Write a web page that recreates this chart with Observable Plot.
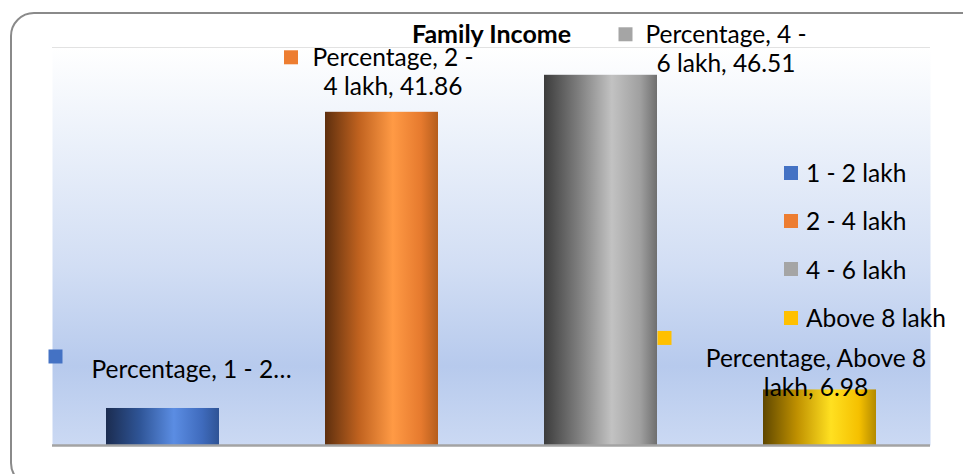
<!DOCTYPE html>
<html><head><meta charset="utf-8">
<script src="https://cdn.jsdelivr.net/npm/d3@7"></script>
<script src="https://cdn.jsdelivr.net/npm/@observablehq/plot@0.6"></script>
<style>
html,body{margin:0;padding:0;background:#fff;}
#chart{position:relative;width:963px;height:474px;overflow:hidden;}
#chart svg{font-family:Lato,"Noto Sans",sans-serif;}
#border{position:absolute;left:10px;top:12px;width:975px;height:475px;border:2px solid #8a8a8a;border-radius:24px;box-sizing:border-box;pointer-events:none;}
#legend{position:absolute;left:784px;top:148.5px;}
#legend .lg-swatch{height:48.3px;padding:0;margin:0;}
#legend .lg-swatch > svg{margin-right:8px;}
</style></head><body><div id="chart"></div>
<script>
// ---- data ----
const categories = ["1 - 2 lakh", "2 - 4 lakh", "4 - 6 lakh", "Above 8 lakh"];
const percentages = [4.65, 41.86, 46.51, 6.98];
const title = "Family Income";
const labelTexts = [
  "Percentage, 1 - 2…",
  "Percentage, 2 -\n4 lakh, 41.86",
  "Percentage, 4 -\n6 lakh, 46.51",
  "Percentage, Above 8\nlakh, 6.98"
];
const yDomain = [0, 50];

// ---- styles / layout ----
const colors = ["#4472c4", "#ed7d31", "#a5a5a5", "#ffc000"];
const gradStops = [
  ["#1b2c50", "#2f5597", "#5b8de3", "#3f6bbd", "#2e5395"],
  ["#5e2f0e", "#c0621f", "#ff9a45", "#e67a2e", "#b55d1c"],
  ["#3c3c3c", "#7d7d7d", "#c2c2c2", "#a0a0a0", "#6f6f6f"],
  ["#5f4700", "#bf9000", "#ffe021", "#f5c000", "#b38a00"]
];
const labelDx = [28.5, 11, 125, -4];
const labelDy = [-30, -17, -3, 6];
const markerDx = [-107.5, -91, 24.5, -155.5];
const markerDy = [-52, -55, -41, -52];
const FS = 24.5;

const data = categories.map((c, i) => ({category: c, value: percentages[i], i, label: labelTexts[i]}));

const defsMark = () => {
  const defs = d3.create("svg:defs");
  const bg = defs.append("linearGradient").attr("id", "bg").attr("x1", 0).attr("y1", 0).attr("x2", 0).attr("y2", 1);
  [["0%", "#ffffff"], ["20%", "#eef3fb"], ["55%", "#d2def4"], ["80%", "#b7caed"], ["100%", "#cbd9f3"]]
    .forEach(([o, c]) => bg.append("stop").attr("offset", o).attr("stop-color", c));
  gradStops.forEach((stops, i) => {
    const g = defs.append("linearGradient").attr("id", "g" + i).attr("x1", 0).attr("y1", 0).attr("x2", 1).attr("y2", 0);
    [0, 0.3, 0.6, 0.85, 1].forEach((o, k) => g.append("stop").attr("offset", o).attr("stop-color", stops[k]));
  });
  return defs.node();
};

const labelMarks = data.flatMap((d) => [
  Plot.text([d], {
    x: "category", y: "value", text: "label",
    dx: labelDx[d.i], dy: labelDy[d.i],
    textAnchor: "middle", lineAnchor: "bottom",
    fontSize: FS, lineHeight: 1.18, fill: "#000"
  }),
  Plot.dot([d], {
    x: "category", y: "value",
    dx: markerDx[d.i], dy: markerDy[d.i],
    symbol: "square", r: 7.9, fill: colors[d.i], stroke: "none"
  })
]);

const chart = Plot.plot({
  width: 963,
  height: 474,
  marginLeft: 52,
  marginRight: 33,
  marginTop: 47,
  marginBottom: 29,
  x: {type: "band", domain: categories, paddingInner: 0.485, paddingOuter: 0.2425, axis: null},
  y: {domain: yDomain, axis: null},
  color: {type: "identity"},
  style: {background: "transparent", overflow: "visible"},
  marks: [
    defsMark,
    Plot.frame({fill: "url(#bg)", stroke: "none"}),
    Plot.ruleY([yDomain[1]], {stroke: "#e2e2e2", strokeWidth: 1}),
    Plot.barY(data, {x: "category", y: "value", fill: (d) => `url(#g${d.i})`, insetLeft: 0, insetRight: 0}),
    Plot.ruleY([0], {stroke: "#a3a3a3", strokeWidth: 2.5}),
    ...labelMarks,
    Plot.text([title], {frameAnchor: "top", dy: -5, lineAnchor: "bottom", fontWeight: "bold", fontSize: 25, fill: "#000"})
  ]
});

const legend = Plot.legend({
  color: {type: "ordinal", domain: categories, range: colors},
  legend: "swatches",
  columns: 1,
  swatchSize: 14,
  className: "lg",
  style: {fontFamily: "Lato, 'Noto Sans', sans-serif", fontSize: FS + "px", color: "#000", background: "transparent"}
});
legend.id = "legend";

const root = document.getElementById("chart");
root.appendChild(chart);
root.appendChild(legend);
const border = document.createElement("div");
border.id = "border";
root.appendChild(border);
</script>
</body></html>
